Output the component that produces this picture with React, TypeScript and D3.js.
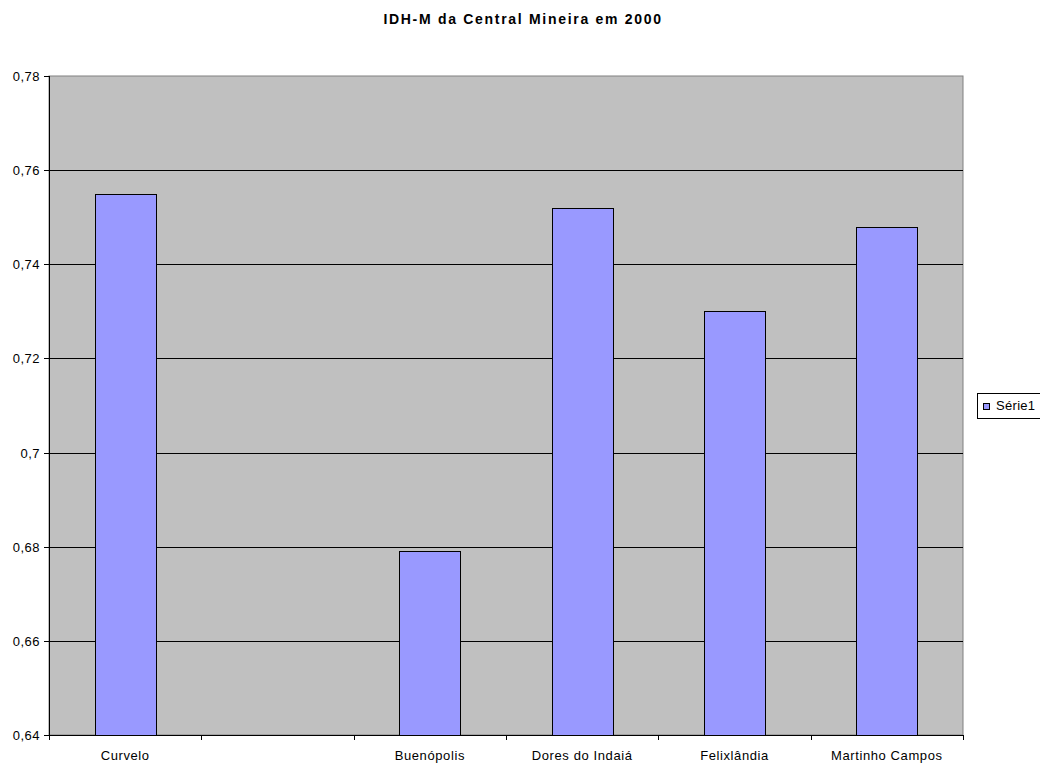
import React from "react";
import * as d3 from "d3";

const categories = ["Curvelo", "", "Buenópolis", "Dores do Indaiá", "Felixlândia", "Martinho Campos"];
const values: (number | null)[] = [0.755, null, 0.679, 0.752, 0.73, 0.748];
const yTicks = [0.64, 0.66, 0.68, 0.7, 0.72, 0.74, 0.76, 0.78];
const seriesName = "Série1";
const title = "IDH-M da Central Mineira em 2000";

const W = 1040;
const H = 763;
const plot = { left: 49, right: 963, top: 76, bottom: 735 };
const font = "'Liberation Sans', Arial, sans-serif";

export default function App() {
  const x = d3
    .scaleBand<number>()
    .domain(d3.range(categories.length))
    .range([plot.left, plot.right])
    .paddingInner(0.6)
    .paddingOuter(0.3);
  const band = d3.scaleBand<number>().domain(d3.range(categories.length)).range([plot.left, plot.right]);
  const y = d3.scaleLinear().domain([0.64, 0.78]).range([plot.bottom, plot.top]);
  const fmt = (v: number) => d3.format(".2~f")(v).replace(".", ",");

  return (
    <svg
      width={W}
      height={H}
      style={{ position: "absolute", left: 0, top: 0, display: "block", background: "#fff" }}
      fontFamily={font}
    >
      <text x={523} y={23.5} textAnchor="middle" fontSize={14} fontWeight="bold" letterSpacing={1.7} fill="#000">
        {title}
      </text>

      <rect x={plot.left} y={plot.top} width={plot.right - plot.left} height={plot.bottom - plot.top} fill="#c0c0c0" stroke="#808080" strokeWidth={1} />

      {yTicks.slice(1, -1).map((t) => (
        <line key={t} x1={plot.left} x2={plot.right} y1={Math.round(y(t)) + 0.5} y2={Math.round(y(t)) + 0.5} stroke="#000" strokeWidth={1} />
      ))}

      {values.map((v, i) =>
        v == null ? null : (
          <rect
            key={i}
            x={Math.round(x(i)!) + 0.5}
            y={Math.round(y(v)) + 0.5}
            width={Math.round(x.bandwidth())}
            height={Math.round(y(0.64)) - Math.round(y(v))}
            fill="#9999ff"
            stroke="#000"
            strokeWidth={1}
          />
        )
      )}

      {/* axes */}
      <line x1={plot.left + 0.5} x2={plot.left + 0.5} y1={plot.top} y2={plot.bottom} stroke="#000" />
      <line x1={plot.left} x2={plot.right} y1={plot.bottom + 0.5} y2={plot.bottom + 0.5} stroke="#000" />

      {yTicks.map((t) => (
        <g key={t}>
          <line x1={plot.left - 5} x2={plot.left} y1={Math.round(y(t)) + 0.5} y2={Math.round(y(t)) + 0.5} stroke="#000" />
          <text x={plot.left - 9} y={y(t) + 5} textAnchor="end" fontSize={13} letterSpacing={0.5} fill="#000">
            {fmt(t)}
          </text>
        </g>
      ))}

      {d3.range(categories.length + 1).map((i) => {
        const px = Math.round(i < categories.length ? band(i)! : plot.right) + 0.5;
        return <line key={i} x1={px} x2={px} y1={plot.bottom} y2={plot.bottom + 5} stroke="#000" />;
      })}

      {categories.map((c, i) => (
        <text key={i} x={band(i)! + band.bandwidth() / 2} y={760} textAnchor="middle" fontSize={13} letterSpacing={0.6} fill="#000">
          {c}
        </text>
      ))}

      {/* legend */}
      <rect x={977.5} y={393.5} width={70} height={25} fill="#fff" stroke="#000" />
      <rect x={983.5} y={403.5} width={6} height={6} fill="#9999ff" stroke="#000" />
      <text x={996} y={409.5} fontSize={13} letterSpacing={0.3} fill="#000">
        {seriesName}
      </text>
    </svg>
  );
}
